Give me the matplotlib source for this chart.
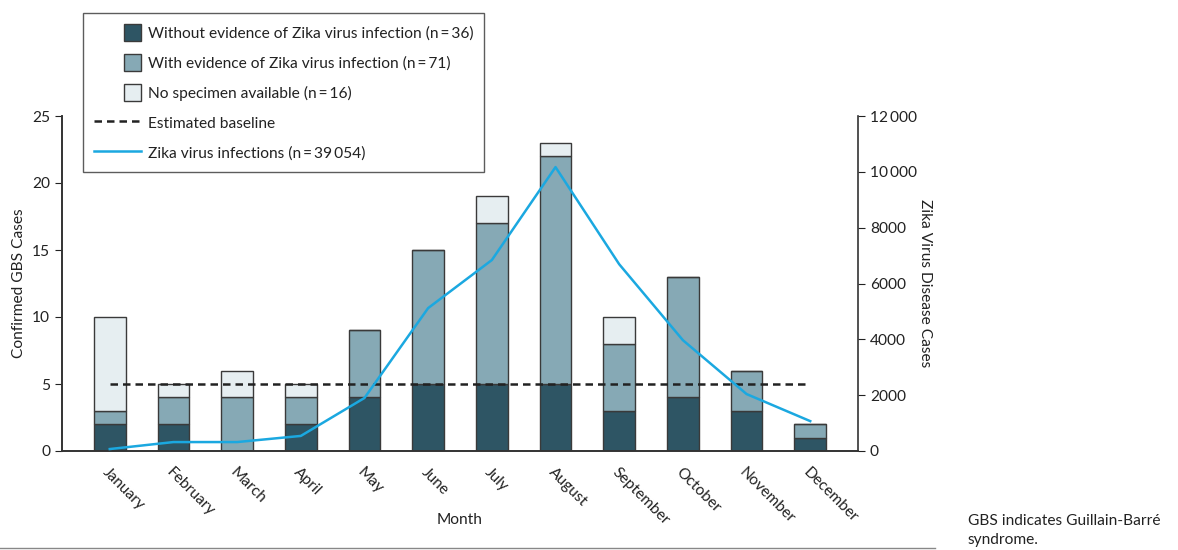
import matplotlib.pyplot as plt
from matplotlib.patches import Patch, Rectangle
from matplotlib.lines import Line2D
from matplotlib.legend_handler import HandlerPatch
import numpy as np

plt.rcParams['font.family'] = ['Lato', 'DejaVu Sans']

months = ['January', 'February', 'March', 'April', 'May', 'June', 'July',
          'August', 'September', 'October', 'November', 'December']
without_zika = [2, 2, 0, 2, 4, 5, 5, 5, 3, 4, 3, 1]
with_zika = [1, 2, 4, 2, 5, 10, 12, 17, 5, 9, 3, 1]
no_specimen = [7, 1, 2, 1, 0, 0, 2, 1, 2, 0, 0, 0]
baseline = [5] * 12
zika_cases = [70, 320, 320, 540, 1900, 5120, 6840, 10170, 6690, 3970, 2040, 1070]

c_dark = '#2e5564'
c_mid = '#86a9b5'
c_light = '#e6eef1'
c_edge = '#3a3a3a'
c_line = '#1ba8e0'
c_text = '#222222'
fs = 11.2

fig = plt.figure(figsize=(11.78, 5.5), dpi=100)
ax = fig.add_axes([62 / 1178, 99 / 550, (858 - 62) / 1178, (451 - 116) / 550])
ax2 = ax.twinx()

x = np.arange(len(months))
w = 0.5
b1 = np.array(without_zika)
b2 = b1 + np.array(with_zika)
ax.bar(x, without_zika, w, color=c_dark, edgecolor=c_edge, linewidth=1, zorder=2)
ax.bar(x, with_zika, w, bottom=b1, color=c_mid, edgecolor=c_edge, linewidth=1, zorder=2)
ax.bar(x, no_specimen, w, bottom=b2, color=c_light, edgecolor=c_edge, linewidth=1, zorder=2)
ax.plot(x, baseline, color='#222222', linestyle=(0, (3, 2)), linewidth=1.8, zorder=3)

ax2.plot(x, zika_cases, color=c_line, linewidth=1.8, zorder=4)

ax.set_xlim(-0.75, 11.75)
ax.set_ylim(0, 25)
ax2.set_ylim(0, 12000)
ax.set_yticks([0, 5, 10, 15, 20, 25])
ax2.set_yticks([0, 2000, 4000, 6000, 8000, 10000, 12000])
ax2.set_yticklabels(['0', '2000', '4000', '6000', '8000', '10\u2009000', '12\u2009000'])

ax.set_xticks(x)
ax.set_xticklabels(months, rotation=-45, ha='left', rotation_mode='anchor',
                   fontsize=fs, color=c_text)
ax.tick_params(axis='x', length=0, pad=10)
ax.tick_params(axis='y', direction='out', length=5, labelsize=fs, colors=c_text)
ax2.tick_params(axis='y', direction='out', length=5, labelsize=fs, colors=c_text)

for a in (ax, ax2):
    a.spines['top'].set_visible(False)
    for s in a.spines.values():
        s.set_color('#333333')
        s.set_linewidth(1.2)
ax.spines['right'].set_visible(False)

ax.set_ylabel('Confirmed GBS Cases', fontsize=fs, color=c_text)
ax.yaxis.set_label_coords(-0.045, 0.5)
ax2.set_ylabel('Zika Virus Disease Cases', fontsize=fs, color=c_text, rotation=270,
               va='center', ha='center')
ax2.yaxis.set_label_coords(1.084, 0.5)
ax.set_xlabel('Month', fontsize=fs, color=c_text)
ax.xaxis.set_label_coords(0.5, -0.185)


def square_patch(legend, orig_handle, xdescent, ydescent, width, height, fontsize):
    side = height
    return Rectangle((width - side - xdescent, -ydescent), side, side)


handles = [
    Patch(facecolor=c_dark, edgecolor=c_edge),
    Patch(facecolor=c_mid, edgecolor=c_edge),
    Patch(facecolor=c_light, edgecolor=c_edge),
    Line2D([], [], color='#222222', linestyle=(0, (3, 2)), linewidth=1.8),
    Line2D([], [], color=c_line, linewidth=1.8),
]
labels = [
    'Without evidence of Zika virus infection (n\u2009=\u200936)',
    'With evidence of Zika virus infection (n\u2009=\u200971)',
    'No specimen available (n\u2009=\u200916)',
    'Estimated baseline',
    'Zika virus infections (n\u2009=\u200939\u2009054)',
]
leg = fig.legend(handles, labels, loc='upper left',
                 bbox_to_anchor=(83 / 1178, 1 - 13 / 550), borderaxespad=0,
                 fontsize=fs, frameon=True, fancybox=False, edgecolor='#333333',
                 handlelength=3.0, handleheight=1.3, labelspacing=0.84,
                 handletextpad=0.45, borderpad=0.7,
                 handler_map={Patch: HandlerPatch(patch_func=square_patch)})
leg.get_frame().set_linewidth(1.0)
for t in leg.get_texts():
    t.set_color(c_text)

fig.add_artist(Line2D([0, 935 / 1178], [2 / 550, 2 / 550], color='#888888', linewidth=1))
fig.text(968 / 1178, 1 - 514 / 550, 'GBS indicates Guillain-Barré\nsyndrome.',
         fontsize=fs, color=c_text, va='top', ha='left', linespacing=1.45)

fig.savefig('out.png', dpi=100)
